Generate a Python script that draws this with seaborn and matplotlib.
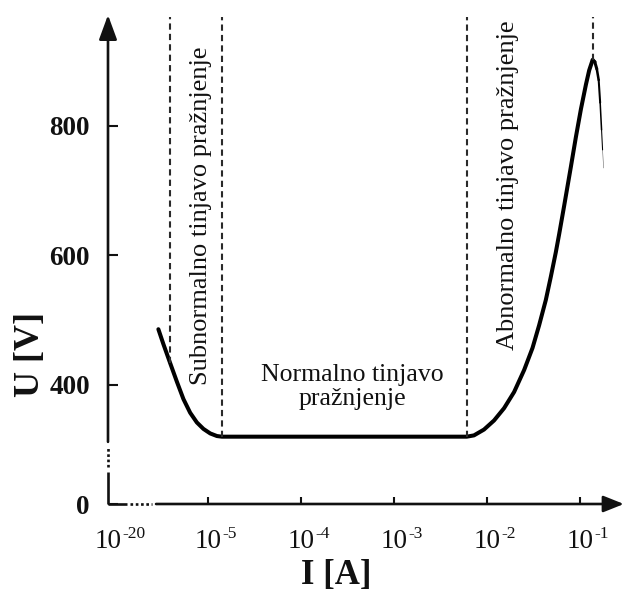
import matplotlib
matplotlib.use("Agg")
import matplotlib.pyplot as plt
import matplotlib.transforms as mtransforms
import seaborn as sns
import pandas as pd

# ---------------- data (log10 of current in A, voltage in V) ----------------
log_current = [-5.536, -5.482, -5.410, -5.337, -5.266, -5.194, -5.122, -5.051,
               -4.978, -4.906, -4.852, -3.500, -2.218, -2.140, -2.032, -1.924,
               -1.816, -1.708, -1.600, -1.510, -1.439, -1.367, -1.313, -1.259,
               -1.223, -1.169, -1.097, -1.043, -0.989, -0.935, -0.900, -0.863]
voltage = [486, 463, 434, 405, 378, 357, 342, 332,
           325, 321, 320, 320, 320, 322, 331, 345,
           364, 389, 423, 457, 492, 531, 567, 605,
           633, 677, 737, 783, 826, 864, 886, 902]
tail_log_current = [-0.863, -0.840, -0.818, -0.798, -0.782, -0.767, -0.756, -0.745]
tail_voltage = [902, 899, 888, 871, 836, 794, 763, 735]

boundary_log_current = [-5.410, -4.852, -2.218, -0.863]
boundary_bottom = [434, 320, 320, 902]
boundary_top = 968

x_tick_marks = [-5, -4, -3, -2, -1]
x_label_pos = [-6.078, -5, -4, -3, -2, -1]
x_label_exp = ["-20", "-5", "-4", "-3", "-2", "-1"]
y_tick_pos = [216, 400, 600, 800]
y_tick_labels = ["0", "400", "600", "800"]

region_labels = ["Subnormalno tinjavo pražnjenje", "Normalno tinjavo\npražnjenje",
                 "Abnormalno tinjavo pražnjenje"]
region_x = [-5.075, -3.447, -1.771]
region_y = [662, 397, 709]
region_rot = [90, 0, 90]

x_lim = (-6.078, -0.547)
y_lim = (216, 971.4)

# ---------------- style ----------------
sns.set_theme(style="white")
plt.rcParams["font.family"] = ["Liberation Serif", "DejaVu Serif"]
INK = "#111111"

fig = plt.figure(figsize=(6.24, 5.92), dpi=100)
ax = fig.add_axes([108 / 624, 88 / 592, 514 / 624, 489 / 592])
ax.set_xlim(*x_lim)
ax.set_ylim(*y_lim)
for s in ax.spines.values():
    s.set_visible(False)

# main curve
df = pd.DataFrame({"logI": log_current, "U": voltage})
sns.lineplot(data=df, x="logI", y="U", sort=False, estimator=None, ax=ax,
             color="black", lw=2.9, solid_capstyle="round", solid_joinstyle="round")
# tapering tail after the peak
n = len(tail_log_current) - 1
for i in range(n):
    w = 2.9 - (2.9 - 0.4) * (i + 1) / n
    ax.plot(tail_log_current[i:i + 2], tail_voltage[i:i + 2], color="black",
            lw=w, solid_capstyle="round", alpha=1.0 if i < n - 1 else 0.6)

# dashed boundaries
ax.vlines(boundary_log_current, boundary_bottom, boundary_top, colors="#2a2a2a",
          lw=1.5, linestyles=(0, (3.0, 2.0)))

# axes with breaks and arrows
xa, xb = x_lim
ya, yb = y_lim
ax.plot([xa, -5.873], [ya, ya], color=INK, lw=1.9, solid_capstyle="butt", clip_on=False)
ax.plot([-5.841, -5.604], [ya, ya], color=INK, lw=1.9, ls=(0, (1, 1)), clip_on=False)
ax.annotate("", xy=(xb + 0.02, ya), xytext=(-5.561, ya), annotation_clip=False,
            arrowprops=dict(arrowstyle="-|>,head_length=1.25,head_width=0.5", lw=1.9,
                            color=INK, shrinkA=0, shrinkB=0, mutation_scale=10))
ax.plot([xa, xa], [ya, 266], color=INK, lw=1.9, solid_capstyle="butt", clip_on=False)
ax.plot([xa, xa], [273, 304], color=INK, lw=1.9, ls=(0, (1, 1)), clip_on=False)
ax.annotate("", xy=(xa, yb), xytext=(xa, 312), annotation_clip=False,
            arrowprops=dict(arrowstyle="-|>,head_length=1.5,head_width=0.55", lw=1.9,
                            color=INK, shrinkA=0, shrinkB=0, mutation_scale=10))

# ticks
ax.set_xticks(x_tick_marks)
ax.set_xticklabels([])
ax.set_yticks(y_tick_pos)
ax.set_yticklabels(y_tick_labels)
ax.tick_params(axis="x", direction="in", length=5, width=1.5, color=INK, bottom=True)
ax.tick_params(axis="y", direction="in", length=7, width=1.5, color=INK, left=True,
               pad=13, labelsize=19.5, labelcolor=INK)
for lbl in ax.get_yticklabels():
    lbl.set_fontweight("bold")

# x tick labels: "10" centred on the tick, exponent as superscript
btrans = mtransforms.blended_transform_factory(ax.transData, ax.transAxes)
for xp, ex in zip(x_label_pos, x_label_exp):
    ax.text(xp, -0.090, "10", transform=btrans, ha="center", va="baseline",
            fontsize=19.5, color=INK, clip_on=False)
    sup_tr = btrans + mtransforms.ScaledTranslation(0.14, 0, fig.dpi_scale_trans)
    ax.text(xp, -0.0695, ex, transform=sup_tr, ha="left", va="baseline",
            fontsize=12.5, color=INK, clip_on=False)

# axis labels
ax.set_xlabel("I [A]", fontsize=25, fontweight="bold", color=INK)
ax.xaxis.set_label_coords(0.4446, -0.1636)
ax.xaxis.label.set_va("baseline")
ax.set_ylabel("U [V]", fontsize=26, fontweight="bold", color=INK, rotation=90,
              ha="center", va="center", rotation_mode="default")
ax.yaxis.set_label_coords(-0.150, 0.3067)

# region labels
for txt, xr, yr, rot in zip(region_labels, region_x, region_y, region_rot):
    ax.text(xr, yr, txt, rotation=rot, ha="center", va="center",
            fontsize=19 if rot else 18.5, color=INK, linespacing=1.15)

fig.savefig("out.png", dpi=100, facecolor="white")
